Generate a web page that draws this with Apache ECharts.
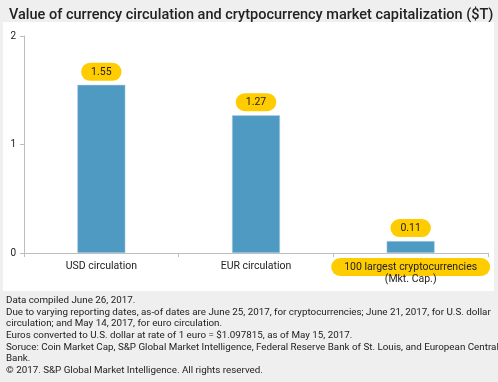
<!DOCTYPE html>
<html><head><meta charset="utf-8">
<script src="https://cdn.jsdelivr.net/npm/echarts@6/dist/echarts.min.js"></script>
<style>html,body{margin:0;padding:0;background:#efefef}#c{width:498px;height:382px}</style>
</head><body><div id="c"></div>
<script>
const categories = ['USD circulation', 'EUR circulation', '100 largest cryptocurrencies\n(Mkt. Cap.)'];
const values = [1.55, 1.27, 0.11];
const yTicks = [0, 1, 2];
const titleText = 'Value of currency circulation and crytpocurrency market capitalization ($T)';
const footerLines = [
  'Data compiled June 26, 2017.',
  'Due to varying reporting dates, as-of dates are June 25, 2017, for cryptocurrencies; June 21, 2017, for U.S. dollar',
  'circulation; and May 14, 2017, for euro circulation.',
  'Euros converted to U.S. dollar at rate of 1 euro = $1.097815, as of May 15, 2017.',
  'Soruce: Coin Market Cap, S&P Global Market Intelligence, Federal Reserve Bank of St. Louis, and European Central',
  'Bank.',
  '\u00a9 2017. S&P Global Market Intelligence. All rights reserved.'
];
const FONT = 'Roboto, "Liberation Sans", sans-serif';
const chart = echarts.init(document.getElementById('c'));
chart.setOption({
  backgroundColor: '#efefef',
  animation: false,
  title: {
    text: titleText, left: 4, top: 3,
    textStyle: {fontFamily: FONT, fontSize: 14.5, fontWeight: 500, color: '#222'}
  },
  graphic: [
    {type: 'rect', z: -10, silent: true, shape: {x: 3, y: 22, width: 491, height: 269}, style: {fill: '#ffffff'}},
    {type: 'text', x: 6, y: 295, silent: true,
     style: {text: footerLines.join('\n'), fontFamily: FONT, fontSize: 9.8, fill: '#222', lineHeight: 11.6}}
  ],
  grid: {left: 24, right: 10, top: 36, bottom: 129, containLabel: false},
  xAxis: {
    type: 'category', data: categories,
    axisLine: {lineStyle: {color: '#bdbdbd'}},
    axisTick: {show: true, length: 4, lineStyle: {color: '#bdbdbd'}},
    axisLabel: {
      margin: 8, interval: 0, fontFamily: FONT, fontSize: 10.5, color: '#222',
      formatter: function (v, i) {
        if (i === 2) { const p = v.split('\n'); return '{hl|' + p[0] + '}\n{pl|' + p[1] + '}'; }
        return v;
      },
      rich: {
        hl: {backgroundColor: '#ffcc00', borderRadius: 9, padding: [4, 13, 3, 13], fontFamily: FONT, fontSize: 10.5, color: '#222', lineHeight: 12},
        pl: {fontFamily: FONT, fontSize: 10.5, color: '#222', lineHeight: 12}
      }
    }
  },
  yAxis: {
    type: 'value', min: yTicks[0], max: yTicks[yTicks.length - 1], interval: 1,
    axisLine: {show: true, lineStyle: {color: '#bdbdbd'}},
    axisTick: {show: true, length: 4, lineStyle: {color: '#bdbdbd'}},
    splitLine: {show: false},
    axisLabel: {margin: 8, fontFamily: FONT, fontSize: 10, color: '#222'}
  },
  series: [{
    type: 'bar', data: values, barWidth: 48,
    itemStyle: {color: '#4f9ac2', borderColor: '#b8d5e6', borderWidth: 0.5},
    label: {
      show: true, position: 'top', distance: 4,
      formatter: function (p) { return p.value.toFixed(2); },
      backgroundColor: '#ffcc00', borderRadius: 9, padding: [4, 10, 3, 10],
      fontFamily: FONT, fontSize: 10.5, color: '#222'
    }
  }]
});
</script></body></html>
